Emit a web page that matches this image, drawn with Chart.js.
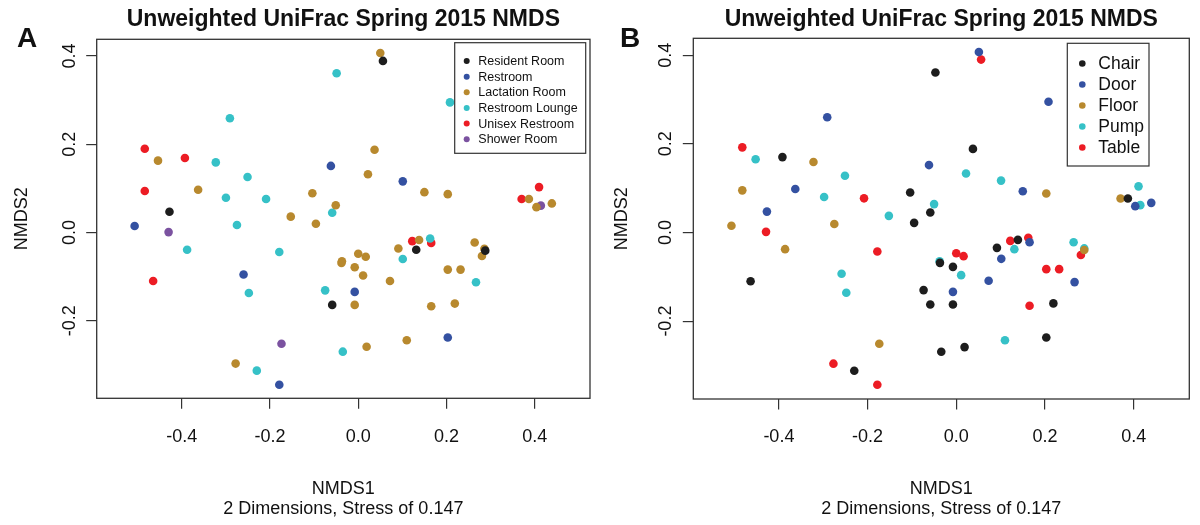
<!DOCTYPE html>
<html>
<head>
<meta charset="utf-8">
<script src="https://cdn.jsdelivr.net/npm/chart.js@4.4.1/dist/chart.umd.min.js"></script>
<style>
html,body{margin:0;padding:0;background:#fff;}
#wrap{position:relative;width:1200px;height:525px;overflow:hidden;}
.panel{position:absolute;top:0;width:600px;height:525px;}
canvas{display:block;}
</style>
</head>
<body>
<div id="wrap">
  <div class="panel" style="left:0"><canvas id="cA" width="600" height="525"></canvas></div>
  <div class="panel" style="left:600px"><canvas id="cB" width="600" height="525"></canvas></div>
</div>
<script>
// ---------- text ----------
const chartTitle = 'Unweighted UniFrac Spring 2015 NMDS';
const xTitle = 'NMDS1';
const xSubTitle = '2 Dimensions, Stress of 0.147';
const yTitle = 'NMDS2';
const panelLetters = ['A', 'B'];

// ---------- axes ----------
const xTicks = [-0.4, -0.2, 0.0, 0.2, 0.4];
const yTicks = [-0.2, 0.0, 0.2, 0.4];
const xRange = [-0.593, 0.5255];
const yRange = [-0.3757, 0.438];

// ---------- panel A: room type ----------
const roomLabels = ['Resident Room', 'Restroom', 'Lactation Room', 'Restroom Lounge', 'Unisex Restroom', 'Shower Room'];
const residentRoom = [[0.056,0.389],[-0.428,0.047],[-0.059,-0.164],[0.1315,-0.039],[0.288,-0.041]];
const restroom = [[-0.062,0.151],[0.101,0.116],[-0.507,0.015],[-0.260,-0.095],[-0.008,-0.1345],[0.203,-0.238],[-0.179,-0.345]];
const lactationRoom = [[0.050,0.407],[0.037,0.1875],[-0.454,0.163],[-0.363,0.097],[-0.104,0.089],[0.022,0.132],[0.150,0.0915],[0.203,0.087],[-0.051,0.062],[-0.153,0.036],[-0.096,0.020],[0.387,0.076],[0.404,0.0575],[0.439,0.066],[-0.038,-0.069],[-0.037,-0.065],[0.000,-0.048],[0.017,-0.055],[-0.008,-0.0785],[0.011,-0.0975],[-0.008,-0.164],[0.072,-0.110],[0.091,-0.036],[0.138,-0.017],[0.264,-0.0225],[0.286,-0.037],[0.2805,-0.053],[0.203,-0.084],[0.232,-0.084],[0.1655,-0.167],[0.219,-0.161],[0.110,-0.244],[0.019,-0.259],[-0.278,-0.297]];
const restroomLounge = [[-0.049,0.361],[0.208,0.295],[-0.291,0.259],[-0.323,0.159],[-0.251,0.126],[-0.300,0.079],[-0.209,0.076],[-0.059,0.045],[-0.275,0.017],[-0.388,-0.039],[-0.179,-0.044],[-0.248,-0.137],[-0.075,-0.131],[0.101,-0.060],[0.163,-0.0135],[0.267,-0.1125],[-0.035,-0.270],[-0.230,-0.313]];
const unisexRestroom = [[-0.484,0.190],[-0.393,0.169],[-0.484,0.094],[-0.465,-0.110],[0.410,0.103],[0.3705,0.076],[0.1225,-0.0195],[0.1655,-0.0235]];
const showerRoom = [[-0.430,0.001],[-0.174,-0.252],[0.414,0.061]];
const roomColors = ['#1d1d1d', '#3451a1', '#b8892e', '#36c1c7', '#ec1c24', '#7b52a0'];

// ---------- panel B: surface ----------
const surfaceLabels = ['Chair', 'Door', 'Floor', 'Pump', 'Table'];
const chair = [[-0.047,0.361],[-0.392,0.170],[-0.104,0.090],[-0.0586,0.045],[-0.095,0.0217],[0.0376,0.1885],[0.387,0.0767],[-0.0368,-0.0686],[-0.4638,-0.110],[-0.0737,-0.130],[-0.0586,-0.1624],[-0.0338,-0.269],[-0.230,-0.312],[-0.0075,-0.0776],[-0.0075,-0.1624],[0.0917,-0.0347],[0.139,-0.0167],[0.219,-0.160],[0.203,-0.2368],[0.0187,-0.2586]];
const door = [[0.051,0.407],[-0.291,0.260],[-0.0615,0.152],[-0.363,0.098],[-0.427,0.047],[0.208,0.295],[0.150,0.093],[0.4036,0.0593],[0.4397,0.0668],[-0.0075,-0.134],[0.073,-0.109],[0.1015,-0.0595],[0.1653,-0.022],[0.2668,-0.112]];
const floor = [[-0.322,0.159],[-0.4825,0.095],[-0.507,0.015],[-0.275,0.019],[-0.386,-0.0377],[-0.1736,-0.251],[0.203,0.088],[0.3705,0.0767],[0.2886,-0.0397]];
const pump = [[-0.4525,0.165],[-0.251,0.128],[-0.298,0.080],[-0.050,0.064],[-0.152,0.0375],[-0.2586,-0.0933],[-0.248,-0.136],[0.022,0.133],[0.101,0.117],[0.411,0.104],[0.415,0.0616],[0.011,-0.0963],[0.131,-0.0377],[0.2646,-0.022],[0.2886,-0.036],[0.1098,-0.243],[-0.0376,-0.065]];
const table = [[0.056,0.390],[-0.4825,0.192],[-0.208,0.077],[-0.429,0.0014],[-0.178,-0.043],[-0.277,-0.296],[-0.178,-0.3436],[0.000,-0.047],[0.0165,-0.0535],[0.1218,-0.019],[0.1624,-0.012],[0.281,-0.051],[0.203,-0.0828],[0.232,-0.0828],[0.1653,-0.1655]];
const surfaceColors = ['#1d1d1d', '#3451a1', '#b8892e', '#36c1c7', '#ec1c24'];

// ---------- drawing ----------
const FONT = '"Liberation Sans", Arial, Helvetica, sans-serif';
const INK = '#111111';
const FRAME = '#333333';

const decorPlugin = {
  id: 'decor',
  afterDatasetsDraw(chart, args, o) {
    const ctx = chart.ctx;
    const a = chart.chartArea;
    ctx.save();
    // plot frame
    ctx.strokeStyle = FRAME;
    ctx.lineWidth = 1.3;
    ctx.strokeRect(a.left, a.top, a.right - a.left, a.bottom - a.top);
    // panel letter
    ctx.fillStyle = INK;
    ctx.font = 'bold 28px ' + FONT;
    ctx.textAlign = 'left';
    ctx.textBaseline = 'alphabetic';
    ctx.fillText(o.letter, o.letterX, o.letterY);
    // legend
    const L = o.legend;
    ctx.fillStyle = '#ffffff';
    ctx.fillRect(L.box[0], L.box[1], L.box[2] - L.box[0], L.box[3] - L.box[1]);
    ctx.strokeStyle = FRAME;
    ctx.lineWidth = 1.2;
    ctx.strokeRect(L.box[0], L.box[1], L.box[2] - L.box[0], L.box[3] - L.box[1]);
    ctx.font = L.fontSize + 'px ' + FONT;
    ctx.textBaseline = 'middle';
    chart.data.datasets.forEach((ds, i) => {
      const y = L.y0 + i * L.step;
      ctx.fillStyle = ds.backgroundColor;
      ctx.beginPath();
      ctx.arc(L.markerX, y, L.markerR, 0, Math.PI * 2);
      ctx.fill();
      ctx.fillStyle = INK;
      ctx.fillText(ds.label, L.textX, y + 0.5);
    });
    ctx.restore();
  }
};

function makeChart(id, labels, seriesList, colors, p) {
  const datasets = labels.map((lab, i) => ({
    label: lab,
    data: seriesList[i].map(pt => ({x: pt[0], y: pt[1]})),
    backgroundColor: colors[i],
    borderWidth: 0,
    pointRadius: 4.3,
    pointHoverRadius: 4.3
  }));
  return new Chart(document.getElementById(id), {
    type: 'scatter',
    data: {datasets},
    options: {
      responsive: false,
      animation: false,
      events: [],
      layout: {padding: {left: 0, right: p.padRight, top: 0, bottom: 0}},
      plugins: {
        legend: {display: false},
        tooltip: {enabled: false},
        title: {
          display: true, text: chartTitle, fullSize: false, color: INK,
          font: {family: FONT, size: 23, weight: 'bold', lineHeight: 1.2},
          padding: {top: p.titleTop, bottom: p.titleBottom}
        },
        decor: p.decor
      },
      scales: {
        x: {
          type: 'linear', position: 'bottom', min: xRange[0], max: xRange[1],
          afterBuildTicks: s => { s.ticks = xTicks.map(v => ({value: v})); },
          afterFit: s => { s.height = 525 - p.bottom; },
          ticks: {callback: v => Number(v).toFixed(1), color: INK, font: {family: FONT, size: 18}, padding: 17, minRotation: 0, maxRotation: 0, autoSkip: false},
          grid: {display: true, drawOnChartArea: false, drawTicks: true, tickLength: 10.5, color: FRAME, tickColor: FRAME, lineWidth: 1.2, tickWidth: 1.2},
          border: {display: false},
          title: {display: true, text: [xTitle, xSubTitle], color: INK, font: {family: FONT, size: 18, lineHeight: 1.111}, padding: {top: 0, bottom: 6}}
        },
        y: {
          type: 'linear', position: 'left', min: yRange[0], max: yRange[1],
          afterBuildTicks: s => { s.ticks = yTicks.map(v => ({value: v})); },
          afterFit: s => { s.width = p.left; },
          ticks: {callback: v => Number(v).toFixed(1), color: INK, font: {family: FONT, size: 18}, padding: 1, minRotation: 90, maxRotation: 90, crossAlign: 'center', autoSkip: false},
          grid: {display: true, drawOnChartArea: false, drawTicks: true, tickLength: 10.5, color: FRAME, tickColor: FRAME, lineWidth: 1.2, tickWidth: 1.2},
          border: {display: false},
          title: {display: true, text: yTitle, color: INK, font: {family: FONT, size: 18, lineHeight: 1.2}, padding: {top: 11, bottom: 0}}
        }
      }
    },
    plugins: [decorPlugin]
  });
}

makeChart('cA', roomLabels,
  [residentRoom, restroom, lactationRoom, restroomLounge, unisexRestroom, showerRoom],
  roomColors,
  {left: 96.7, padRight: 10, bottom: 398.3, titleTop: 6.2, titleBottom: 5.5,
   decor: {letter: panelLetters[0], letterX: 17, letterY: 47,
     legend: {box: [454.7, 42.7, 585.7, 153.3], y0: 61, step: 15.65, markerX: 466.7, markerR: 3, textX: 478.3, fontSize: 12.5}}});

makeChart('cB', surfaceLabels,
  [chair, door, floor, pump, table],
  surfaceColors,
  {left: 93.3, padRight: 10.7, bottom: 399, titleTop: 6.2, titleBottom: 4.5,
   decor: {letter: panelLetters[1], letterX: 20, letterY: 47,
     legend: {box: [467.3, 43.3, 549, 166], y0: 63.5, step: 21, markerX: 482.3, markerR: 3.3, textX: 498.3, fontSize: 17.5}}});
</script>
</body>
</html>
